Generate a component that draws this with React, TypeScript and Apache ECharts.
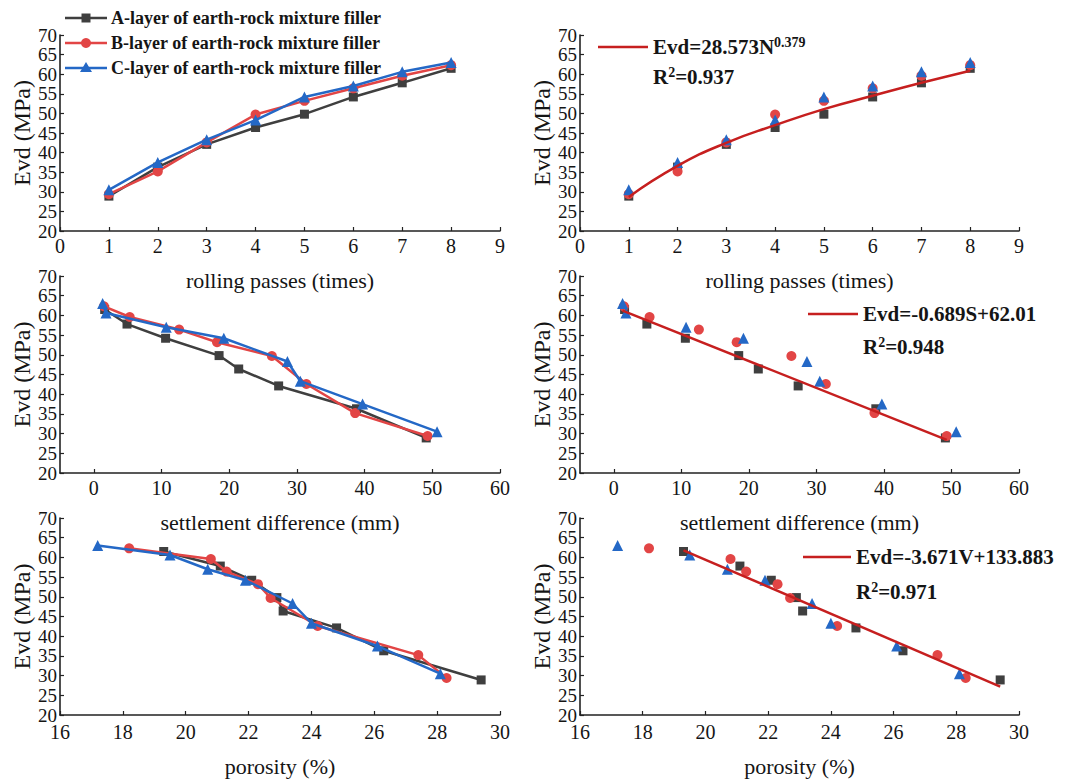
import React, { useEffect, useRef } from "react";
import * as echarts from "echarts";

// ---------- data ----------
const passes = [1, 2, 3, 4, 5, 6, 7, 8];
const evdA = [28.9, 36.3, 42.1, 46.4, 49.8, 54.2, 57.8, 61.5];
const evdB = [29.4, 35.2, 42.6, 49.7, 53.2, 56.4, 59.6, 62.3];
const evdC = [30.5, 37.5, 43.3, 48.3, 54.2, 57.0, 60.6, 63.0];

// settlement difference (mm), per pass 1..8
const settleA = [49.1, 38.8, 27.3, 21.4, 18.5, 10.6, 4.9, 1.6];
const settleB = [49.3, 38.6, 31.4, 26.3, 18.2, 12.6, 5.3, 1.5];
const settleC = [50.7, 39.7, 30.5, 28.6, 19.2, 10.7, 1.8, 1.3];

// porosity (%), per pass 1..8
const poroA = [29.4, 26.3, 24.8, 23.1, 22.9, 22.1, 21.1, 19.3];
const poroB = [28.3, 27.4, 24.2, 22.7, 22.3, 21.3, 20.8, 18.2];
const poroC = [28.1, 26.1, 24.0, 23.4, 21.9, 20.7, 19.5, 17.2];

// fitted curves as drawn
const fitPassX = [1, 2, 3, 4, 5, 6, 7, 8];
const fitPassY = [28.7, 36.6, 42.5, 47.0, 51.1, 54.5, 57.8, 60.9];
const fitSettleX = [1.3, 49.3];
const fitSettleY = [61.2, 28.4];
const fitPoroX = [19.3, 29.4];
const fitPoroY = [61.8, 27.2];

const yTicks = [20, 70, 5];
const settleTicks = [0, 10, 20, 30, 40, 50, 60];

const legendNames = [
  "A-layer of earth-rock mixture filler",
  "B-layer of earth-rock mixture filler",
  "C-layer of earth-rock mixture filler",
];
const eqPass = ["Evd=28.573N", "0.379", "0.937"];
const eqSettle = ["Evd=-0.689S+62.01", "0.948"];
const eqPoro = ["Evd=-3.671V+133.883", "0.971"];

const xNames = ["rolling passes (times)", "settlement difference (mm)", "porosity (%)"];

// ---------- styling ----------
const FONT = "'Liberation Serif', 'Times New Roman', serif";
const C_A = "#3f3f3f";
const C_B = "#e24545";
const C_C = "#2468c6";
const C_FIT = "#c61f1f";
const TXT = "#151515";

const zip = (xs: number[], ys: number[]) => xs.map((x, i) => [x, ys[i]]);

export default function App() {
  const ref = useRef<HTMLDivElement>(null);

  useEffect(() => {
    if (!ref.current) return;
    const chart = echarts.init(ref.current, undefined, { renderer: "svg" });

    const grids = [
      { left: 60, top: 35, width: 440, height: 196 },
      { left: 580, top: 35, width: 439, height: 196 },
      { left: 60, top: 276, width: 440, height: 197 },
      { left: 580, top: 276, width: 439, height: 197 },
      { left: 60, top: 518, width: 440, height: 197 },
      { left: 580, top: 518, width: 439, height: 197 },
    ];

    const axisCommon = {
      axisLine: { show: true, onZero: false, lineStyle: { color: "#222", width: 1.6 } },
      axisTick: { show: true, inside: true, length: 4, lineStyle: { color: "#222", width: 1.2 } },
      splitLine: { show: false },
      axisLabel: { color: TXT, fontSize: 19, lineHeight: 19, fontFamily: FONT },
    };

    const xAxes: any[] = [];
    for (let i = 0; i < 6; i++) {
      const row = Math.floor(i / 2);
      const base: any = {
        type: "value",
        gridIndex: i,
        name: xNames[row],
        nameLocation: "middle",
        nameGap: row === 2 ? 40 : 38,
        nameTextStyle: { color: TXT, fontSize: 22, fontFamily: FONT },
        ...axisCommon,
        axisLabel: { ...axisCommon.axisLabel, fontSize: 20, lineHeight: 20, margin: row === 2 ? 7 : 5 },
      };
      if (row === 0) {
        base.min = 0;
        base.max = 9;
        base.interval = 1;
      } else if (row === 1) {
        base.min = -5;
        base.max = 60;
        base.axisTick = { ...axisCommon.axisTick, customValues: settleTicks };
        base.axisLabel = { ...base.axisLabel, customValues: settleTicks };
      } else {
        base.min = 16;
        base.max = 30;
        base.interval = 2;
      }
      xAxes.push(base);
    }

    const yAxes: any[] = [];
    for (let i = 0; i < 6; i++) {
      yAxes.push({
        type: "value",
        gridIndex: i,
        min: yTicks[0],
        max: yTicks[1],
        interval: yTicks[2],
        name: "Evd (MPa)",
        nameLocation: "middle",
        nameGap: 23,
        nameTextStyle: { color: TXT, fontSize: 24, fontFamily: FONT },
        ...axisCommon,
        axisLabel: { ...axisCommon.axisLabel, margin: 3 },
      });
    }

    const lineSeries = (idx: number, xs: number[][], withLine: boolean) => {
      const cols = [C_A, C_B, C_C];
      const syms = ["rect", "circle", "triangle"];
      const sizes = [9, 10, 11];
      return [0, 1, 2].map((k) => ({
        type: withLine ? "line" : "scatter",
        name: legendNames[k],
        xAxisIndex: idx,
        yAxisIndex: idx,
        data: xs[k],
        symbol: syms[k],
        symbolSize: sizes[k],
        showSymbol: true,
        lineStyle: { color: cols[k], width: 2.5 },
        itemStyle: { color: cols[k], opacity: 1 },
        z: 2 + k,
      }));
    };

    const setA = [zip(passes, evdA), zip(passes, evdB), zip(passes, evdC)];
    const setS = [zip(settleA, evdA), zip(settleB, evdB), zip(settleC, evdC)];
    const setP = [zip(poroA, evdA), zip(poroB, evdB), zip(poroC, evdC)];

    const fit = (idx: number, xs: number[], ys: number[], smooth: boolean) => ({
      type: "line",
      xAxisIndex: idx,
      yAxisIndex: idx,
      data: zip(xs, ys),
      smooth,
      showSymbol: false,
      symbol: "none",
      lineStyle: { color: C_FIT, width: 2.5 },
      z: 10,
    });

    const series: any[] = [
      ...lineSeries(0, setA, true),
      ...lineSeries(1, setA, false),
      fit(1, fitPassX, fitPassY, true),
      ...lineSeries(2, setS, true),
      ...lineSeries(3, setS, false),
      fit(3, fitSettleX, fitSettleY, false),
      ...lineSeries(4, setP, true),
      ...lineSeries(5, setP, false),
      fit(5, fitPoroX, fitPoroY, false),
    ];

    const legFont = { fontFamily: FONT, fontWeight: "bold" as const, fill: TXT };
    const legendRows = [18, 43, 68];
    const legendCols = [C_A, C_B, C_C];
    const graphic: any[] = [];
    legendRows.forEach((y, k) => {
      graphic.push({
        type: "line",
        shape: { x1: 65, y1: y, x2: 107, y2: y },
        style: { stroke: legendCols[k], lineWidth: 2.5 },
      });
      if (k === 0)
        graphic.push({ type: "rect", shape: { x: 81.5, y: y - 4.5, width: 9, height: 9 }, style: { fill: C_A } });
      if (k === 1) graphic.push({ type: "circle", shape: { cx: 86, cy: y, r: 5 }, style: { fill: C_B } });
      if (k === 2)
        graphic.push({
          type: "polygon",
          shape: { points: [[86, y - 6], [80, y + 4], [92, y + 4]] },
          style: { fill: C_C },
        });
      graphic.push({
        type: "text",
        x: 111,
        y,
        style: { ...legFont, text: legendNames[k], fontSize: 18, verticalAlign: "middle", align: "left" },
      });
    });

    const richStyles = {
      n: { fontFamily: FONT, fontWeight: "bold", fontSize: 21, lineHeight: 24, color: TXT },
      sup: { fontFamily: FONT, fontWeight: "bold", fontSize: 14, lineHeight: 14, verticalAlign: "top", color: TXT },
    };
    const eqBlock = (lx1: number, lx2: number, y1: number, y2: number, eqText: string, r2: string) => {
      graphic.push({
        type: "line",
        shape: { x1: lx1, y1, x2: lx2, y2: y1 },
        style: { stroke: C_FIT, lineWidth: 2.5 },
      });
      graphic.push({
        type: "text",
        x: lx2 + 5,
        y: y1,
        style: { text: eqText, rich: richStyles, verticalAlign: "middle", align: "left", ...legFont },
      });
      graphic.push({
        type: "text",
        x: lx2 + 5,
        y: y2,
        style: { text: `{n|R}{sup|2}{n|=${r2}}`, rich: richStyles, verticalAlign: "middle", align: "left", ...legFont },
      });
    };
    eqBlock(598, 648, 47, 77, `{n|${eqPass[0]}}{sup|${eqPass[1]}}`, eqPass[2]);
    eqBlock(808, 858, 314, 347, `{n|${eqSettle[0]}}`, eqSettle[1]);
    eqBlock(803, 851, 557, 592, `{n|${eqPoro[0]}}`, eqPoro[1]);

    chart.setOption({
      animation: false,
      backgroundColor: "#ffffff",
      grid: grids,
      xAxis: xAxes,
      yAxis: yAxes,
      series,
      graphic,
    });

    return () => chart.dispose();
  }, []);

  return (
    <div
      ref={ref}
      style={{ position: "fixed", left: 0, top: 0, width: 1081, height: 780, background: "#fff" }}
    />
  );
}
